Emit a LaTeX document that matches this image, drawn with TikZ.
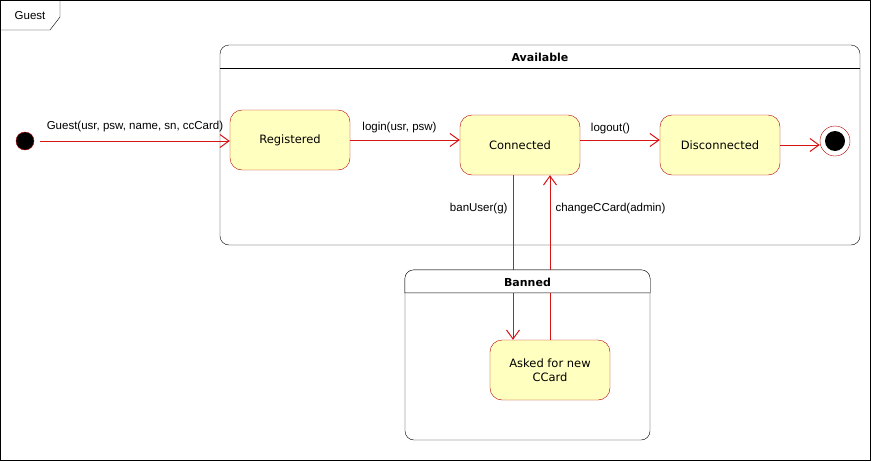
\documentclass[tikz,border=0pt]{standalone}
\usepackage{fontspec}
\setmainfont{Liberation Sans}
\newfontfamily\statefont{DejaVu Sans}
\usetikzlibrary{arrows.meta,positioning,calc}
\definecolor{statered}{RGB}{178,0,0}
\definecolor{edgered}{RGB}{215,20,20}
\definecolor{stateyellow}{RGB}{255,255,192}

\begin{document}
\begin{tikzpicture}[x=1pt, y=-1pt,
  state/.style={draw=statered, fill=stateyellow, rounded corners=12pt, minimum width=120pt, minimum height=60pt, align=center, font=\statefont\fontsize{11.5}{14}\selectfont},
  region/.style={draw, rounded corners=9pt, inner sep=0pt},
  trans/.style={draw=edgered, -{Straight Barb[length=9pt, width=13pt, line width=1pt]}, line width=1pt},
  lbl/.style={font=\fontsize{11.5}{14}\selectfont, inner sep=1pt},
  title/.style={font=\statefont\bfseries\fontsize{11}{13}\selectfont}]
  \useasboundingbox (0,0) rectangle (871,461);
  % frame
  \draw (0.5,0.5) rectangle (870.5,460.5);
  \draw (0.5,30) -- (50,30) -- (60,17) -- (60,0.5);
  \node[lbl] (guesttab) at (30,16) {Guest};
  % composite states
  \node[region, minimum width=640pt, minimum height=200pt] (available) at (540,145) {};
  \draw ($(available.north west)+(0,23)$) -- ($(available.north east)+(0,23)$);
  \node[title] (availtitle) at (540,57) {Available};
  \node[region, minimum width=245pt, minimum height=170pt] (banned) at (527.5,355) {};
  % pseudo states
  \node[circle, draw=statered, fill=black, minimum size=18pt, inner sep=0pt] (init) at (25,141) {};
  \node[circle, draw=statered, minimum size=30pt, inner sep=0pt] (final) at (835,141) {};
  \node[circle, fill=black, minimum size=20pt, inner sep=0pt] (finaldot) at (final) {};
  % simple states
  \node[state] (registered) at (290,140) {Registered};
  \node[state] (connected) at (520,145) {Connected};
  \node[state] (disconnected) at (720,145) {Disconnected};
  \node[state] (asked) at (550,370) {Asked for new\\CCard};
  \coordinate (banx) at (513,0);
  \coordinate (changex) at (550,0);
  % transitions
  \draw[trans] ($(init.east)+(6,0)$) -- (registered.west |- init)
    node[lbl, pos=0.5, above=8pt] {Guest(usr, psw, name, sn, ccCard)};
  \draw[trans] (registered.east) -- (connected.west |- registered)
    node[lbl, pos=0.45, above=6pt] {login(usr, psw)};
  \draw[trans] (connected.east |- registered) -- (disconnected.west |- registered)
    node[lbl, pos=0.38, above=5pt] {logout()};
  \draw[trans] (disconnected.east) -- (disconnected.east -| final.west);
  \draw[trans] (connected.south -| banx) -- (asked.north -| banx)
    node[lbl, pos=0.2, left=4pt] {banUser(g)};
  \draw[trans] (asked.north -| changex) -- (connected.south -| changex)
    node[lbl, pos=0.8, right=4pt] {changeCCard(admin)};
  % header of Banned over the transitions
  \draw[fill=white] ($(banned.north west)+(0,23)$) [rounded corners=9pt] -- (banned.north west)
    -- (banned.north east) [sharp corners] -- ($(banned.north east)+(0,23)$) -- cycle;
  \node[title] (bannedtitle) at (527.5,282) {Banned};
\end{tikzpicture}
\end{document}
